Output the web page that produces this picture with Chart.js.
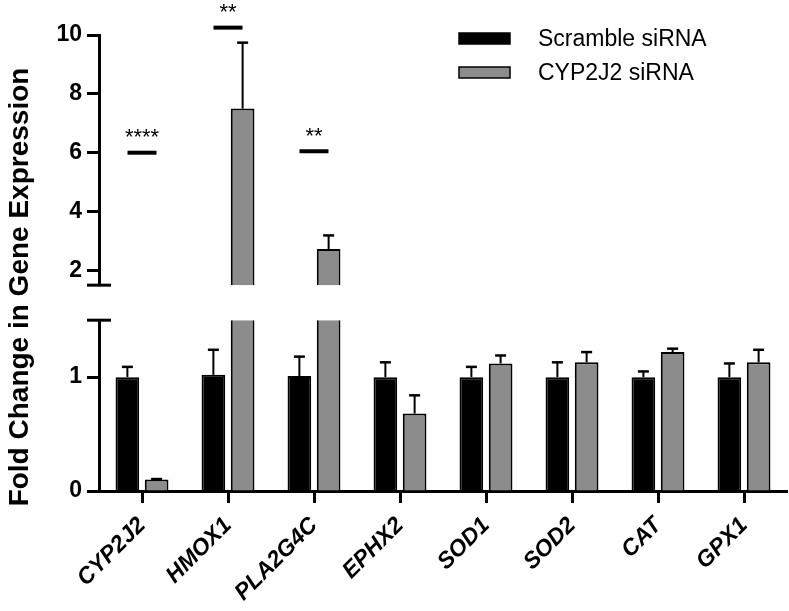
<!DOCTYPE html>
<html><head><meta charset="utf-8">
<script src="https://cdn.jsdelivr.net/npm/chart.js@4"></script>
<style>html,body{margin:0;padding:0;background:#fff}canvas{display:block}</style>
</head><body>
<canvas id="c" width="789" height="611"></canvas>
<script>
// ---- data ----
const categories = ['CYP2J2', 'HMOX1', 'PLA2G4C', 'EPHX2', 'SOD1', 'SOD2', 'CAT', 'GPX1'];
const seriesNames = ['Scramble siRNA', 'CYP2J2 siRNA'];
const scrambleValues = [1.00, 1.02, 1.01, 1.00, 1.00, 1.00, 1.00, 1.00];
const scrambleErrors = [0.09, 0.22, 0.17, 0.13, 0.09, 0.13, 0.05, 0.12];
const cypValues = [0.10, 7.50, 2.73, 0.68, 1.12, 1.13, 1.22, 1.13];
const cypErrors = [0.005, 2.24, 0.46, 0.16, 0.07, 0.09, 0.03, 0.11];
const upperTicks = [2, 4, 6, 8, 10];
const lowerTicks = [0, 1];
const breakValue = 1.5;
const upperMax = 10;
const sigCategory = ['CYP2J2', 'HMOX1', 'PLA2G4C'];
const sigLevel = [6.0, 10.25, 6.05];
const sigText = ['****', '**', '**'];
const yTitle = 'Fold Change in Gene Expression';

// ---- style ----
const FONT = '"Liberation Sans", Arial, Helvetica, sans-serif';
const BLACK = '#000000';
const GREY = '#8c8c8c';

function valuePixel(chart, v) {
  return v > breakValue ? chart.scales.yTop.getPixelForValue(v) : chart.scales.yBot.getPixelForValue(v);
}

const clipPanels = {
  id: 'clipPanels',
  beforeDatasetDraw(chart, args) {
    const ys = chart.scales[args.meta.yAxisID];
    const ctx = chart.ctx;
    ctx.save();
    ctx.beginPath();
    ctx.rect(chart.chartArea.left, ys.top, chart.chartArea.right - chart.chartArea.left, ys.bottom - ys.top);
    ctx.clip();
  },
  afterDatasetDraw(chart) {
    chart.ctx.restore();
  }
};

const extras = {
  id: 'extras',
  afterDatasetsDraw(chart) {
    const ctx = chart.ctx;
    const x = chart.scales.x;
    // error bars
    const sets = [[0, scrambleValues, scrambleErrors], [1, cypValues, cypErrors]];
    ctx.save();
    ctx.strokeStyle = BLACK;
    ctx.lineCap = 'butt';
    sets.forEach(([di, vals, errs]) => {
      const meta = chart.getDatasetMeta(di);
      vals.forEach((v, i) => {
        const bx = meta.data[i].x;
        const y0 = valuePixel(chart, v);
        const y1 = valuePixel(chart, v + errs[i]);
        ctx.lineWidth = 2;
        ctx.beginPath(); ctx.moveTo(bx, y0); ctx.lineTo(bx, y1); ctx.stroke();
        ctx.lineWidth = 2.5;
        ctx.beginPath(); ctx.moveTo(bx - 5.5, y1); ctx.lineTo(bx + 5.5, y1); ctx.stroke();
      });
    });
    // axis break marks
    const L = chart.chartArea.left;
    ctx.lineWidth = 3;
    [chart.scales.yTop.getPixelForValue(breakValue), chart.scales.yBot.getPixelForValue(breakValue)].forEach(py => {
      ctx.beginPath(); ctx.moveTo(L - 12, py); ctx.lineTo(L + 12, py); ctx.stroke();
    });
    // significance marks
    ctx.fillStyle = BLACK;
    ctx.font = '22px ' + FONT;
    ctx.textAlign = 'center';
    ctx.textBaseline = 'alphabetic';
    sigCategory.forEach((c, k) => {
      const cx = x.getPixelForValue(categories.indexOf(c));
      const py = chart.scales.yTop.getPixelForValue(sigLevel[k]);
      ctx.lineWidth = 4;
      ctx.beginPath(); ctx.moveTo(cx - 14.5, py); ctx.lineTo(cx + 14.5, py); ctx.stroke();
      ctx.fillText(sigText[k], cx, py - 8.5);
    });
    ctx.restore();
  },
  afterDraw(chart) {
    const ctx = chart.ctx;
    ctx.save();
    // y title
    ctx.fillStyle = BLACK;
    ctx.font = 'bold 28px ' + FONT;
    ctx.textAlign = 'center';
    ctx.textBaseline = 'middle';
    ctx.translate(20, 287);
    ctx.rotate(-Math.PI / 2);
    ctx.fillText(yTitle, 0, 0);
    ctx.restore();
    // legend
    ctx.save();
    const lx = chart.chartArea.left + 360;
    const rows = [38.5, 72.5];
    const fills = [BLACK, GREY];
    ctx.font = '23px ' + FONT;
    ctx.textAlign = 'left';
    ctx.textBaseline = 'middle';
    seriesNames.forEach((n, k) => {
      ctx.fillStyle = fills[k];
      ctx.fillRect(lx, rows[k] - 5.5, 51, 11);
      ctx.strokeStyle = BLACK;
      ctx.lineWidth = 1.5;
      ctx.strokeRect(lx, rows[k] - 5.5, 51, 11);
      ctx.fillStyle = BLACK;
      ctx.fillText(n, lx + 79, rows[k] + 1);
    });
    ctx.restore();
  }
};

const tickFont = { family: FONT, size: 23, weight: 'bold' };

new Chart(document.getElementById('c'), {
  type: 'bar',
  data: {
    labels: categories,
    datasets: [
      { label: seriesNames[0], data: scrambleValues, yAxisID: 'yBot', stack: 's',
        backgroundColor: BLACK, borderColor: BLACK, borderWidth: 2 },
      { label: seriesNames[1], data: cypValues, yAxisID: 'yBot', stack: 'c',
        backgroundColor: GREY, borderColor: BLACK, borderWidth: 2 },
      { label: seriesNames[1] + ' (upper)', data: cypValues, yAxisID: 'yTop', stack: 'c',
        backgroundColor: GREY, borderColor: BLACK, borderWidth: 2 }
    ]
  },
  options: {
    responsive: false,
    animation: false,
    devicePixelRatio: 1,
    layout: { padding: { top: 35, right: 2, bottom: 0, left: 0 } },
    datasets: { bar: { categoryPercentage: 0.68, barPercentage: 0.81 } },
    plugins: { legend: { display: false }, tooltip: { enabled: false } },
    scales: {
      x: {
        type: 'category', offset: true,
        grid: { display: true, offset: false, drawOnChartArea: false, tickLength: 12, tickWidth: 3, tickColor: BLACK },
        border: { display: true, width: 3, color: BLACK },
        ticks: { color: BLACK, font: { family: FONT, size: 23, weight: 'bold', style: 'italic' },
                 minRotation: 45, maxRotation: 45, padding: 9, autoSkip: false },
        afterFit(s) { s.height = 120; }
      },
      yTop: {
        type: 'linear', position: 'left', stack: 'v', stackWeight: 250, weight: 3,
        min: breakValue, max: upperMax,
        afterBuildTicks(s) { s.ticks = upperTicks.map(v => ({ value: v })); },
        grid: { display: true, drawOnChartArea: false, tickLength: 12, tickWidth: 3, tickColor: BLACK },
        border: { display: true, width: 3, color: BLACK },
        ticks: { color: BLACK, font: tickFont, padding: 5 },
        afterFit(s) { s.width = 99; }
      },
      ySpacer: {
        type: 'linear', position: 'left', stack: 'v', stackWeight: 35, weight: 2,
        min: 0, max: 1,
        grid: { display: false }, border: { display: false }, ticks: { display: false },
        afterFit(s) { s.width = 99; }
      },
      yBot: {
        type: 'linear', position: 'left', stack: 'v', stackWeight: 170.7, weight: 1,
        min: 0, max: breakValue,
        afterBuildTicks(s) { s.ticks = lowerTicks.map(v => ({ value: v })); },
        grid: { display: true, drawOnChartArea: false, tickLength: 12, tickWidth: 3, tickColor: BLACK },
        border: { display: true, width: 3, color: BLACK },
        ticks: { color: BLACK, font: tickFont, padding: 5 },
        afterFit(s) { s.width = 99; }
      }
    }
  },
  plugins: [clipPanels, extras]
});
</script>
</body></html>
